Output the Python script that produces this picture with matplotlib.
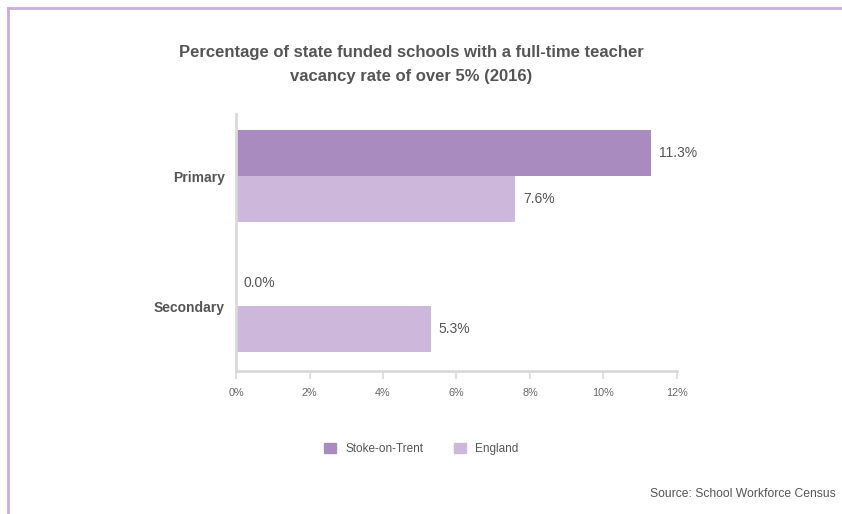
import matplotlib
matplotlib.use("Agg")
import matplotlib.pyplot as plt
from matplotlib.lines import Line2D
from matplotlib.patches import Patch
import numpy as np

plt.rcParams['font.family'] = ['Liberation Sans', 'DejaVu Sans']

categories = ["Primary", "Secondary"]
series_names = ["Stoke-on-Trent", "England"]
stoke = [11.3, 0.0]
england = [7.6, 5.3]
xticks = [0, 2, 4, 6, 8, 10, 12]
xtick_labels = ["0%", "2%", "4%", "6%", "8%", "10%", "12%"]
title_lines = ["Percentage of state funded schools with a full-time teacher",
               "vacancy rate of over 5% (2016)"]
source = "Source: School Workforce Census"

c_stoke = "#a98bc0"
c_england = "#cdb8db"
txt = "#555555"
axis_col = "#d9d9d9"

W, H = 842, 514
fig = plt.figure(figsize=(W / 100, H / 100), dpi=100)
fig.patch.set_facecolor("white")

# frame lines on top and left of the card
border = "#c9aedb"
fig.add_artist(Line2D([8 / W, 8 / W], [0, 1 - 8 / H], transform=fig.transFigure,
                      color=border, lw=2))
fig.add_artist(Line2D([8 / W, 1], [1 - 8 / H, 1 - 8 / H], transform=fig.transFigure,
                      color=border, lw=2))

left, right, top, bottom = 236, 677, 114, 371
ax = fig.add_axes([left / W, (H - bottom) / H, (right - left) / W, (bottom - top) / H])

y = np.array([1.0, 0.0])
h = 0.354
ax.barh(y + h / 2, stoke, height=h, color=c_stoke, label=series_names[0])
ax.barh(y - h / 2, england, height=h, color=c_england, label=series_names[1])

for yi, v in zip(y + h / 2, stoke):
    ax.annotate(f"{v:.1f}%", (v, yi), xytext=(5.5, 0), textcoords="offset points",
                va="center", ha="left", fontsize=10, color=txt)
for yi, v in zip(y - h / 2, england):
    ax.annotate(f"{v:.1f}%", (v, yi), xytext=(5.5, 0), textcoords="offset points",
                va="center", ha="left", fontsize=10, color=txt)

ax.set_xlim(0, 12)
ax.set_ylim(-0.5, 1.477)
ax.set_xticks(xticks)
ax.set_xticklabels(xtick_labels, fontsize=7.8, color="#666666")
ax.set_yticks(y)
ax.set_yticklabels(categories, fontsize=10, fontweight="bold", color=txt)
ax.tick_params(axis="x", length=6, width=1.2, color=axis_col, pad=6)
ax.tick_params(axis="y", length=0, pad=8)
for s in ["top", "right"]:
    ax.spines[s].set_visible(False)
for s in ["left", "bottom"]:
    ax.spines[s].set_color(axis_col)
    ax.spines[s].set_linewidth(2)

for line, ypx in zip(title_lines, [52, 76]):
    fig.text(411 / W, 1 - ypx / H, line, ha="center", va="center",
             fontsize=12, fontweight="bold", color=txt)

handles = [Patch(color=c_stoke), Patch(color=c_england)]
fig.legend(handles, series_names, loc="center", bbox_to_anchor=(421 / W, 1 - 449 / H),
           ncol=2, frameon=False, fontsize=8.5, handlelength=1.0, handleheight=1.0,
           columnspacing=2.6, handletextpad=0.8, labelcolor=txt)

fig.text(836 / W, 1 - 494 / H, source, ha="right",
         va="center", fontsize=8.7, color=txt)

fig.savefig("out.png", dpi=100, facecolor="white")
